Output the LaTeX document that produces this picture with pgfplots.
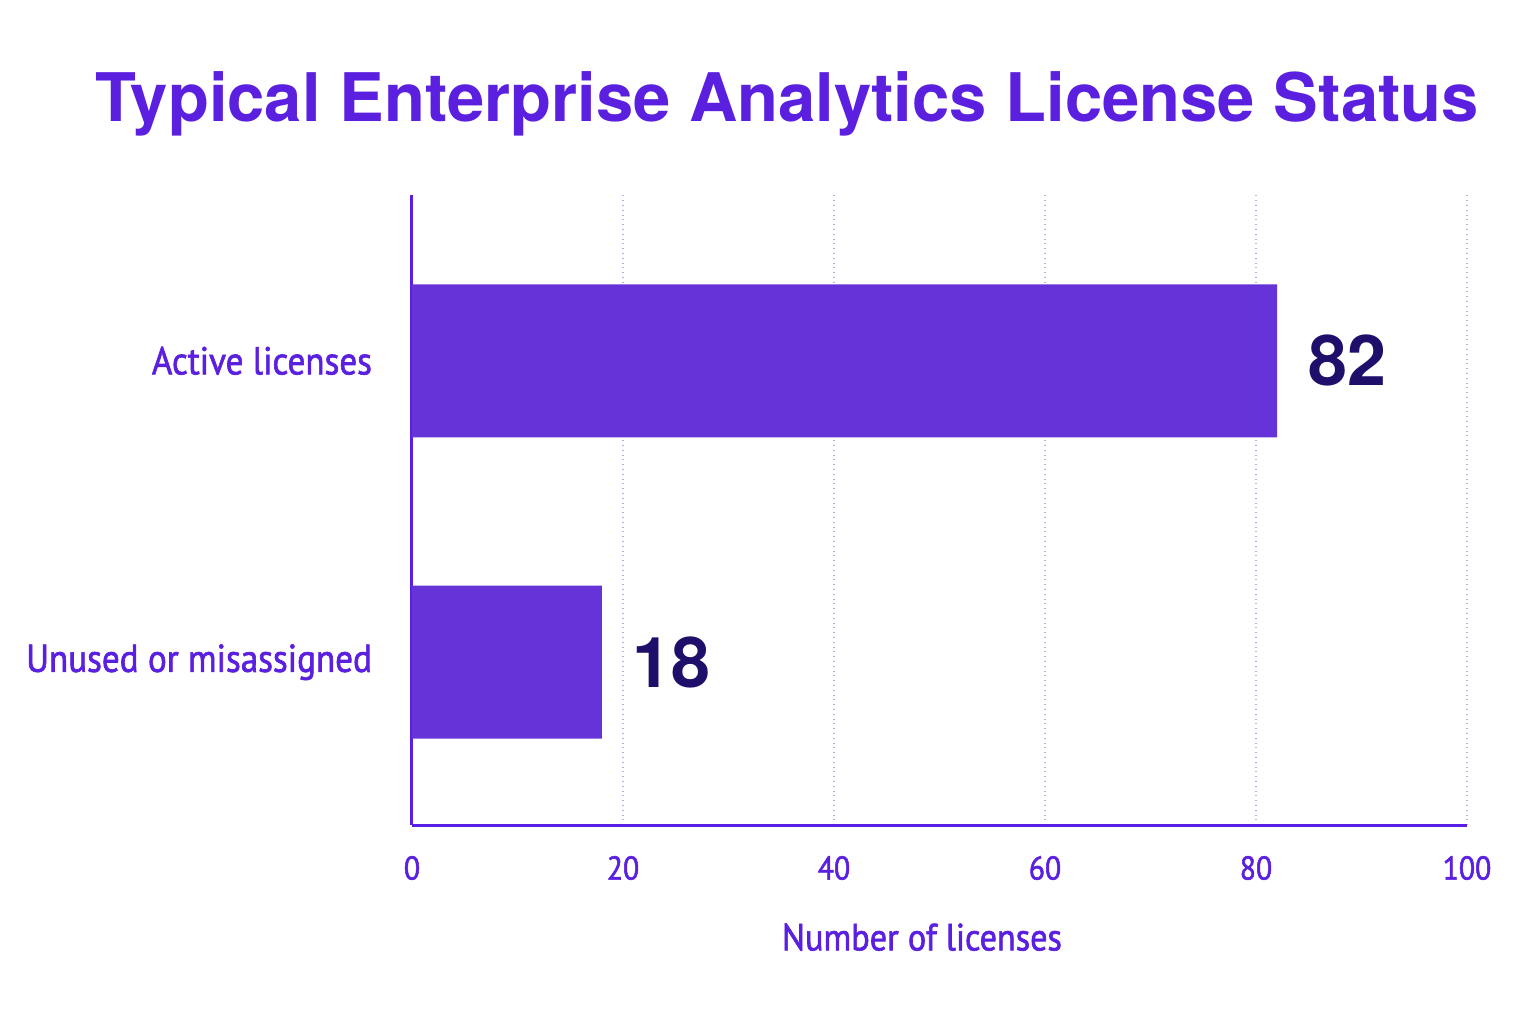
\documentclass[border=0pt]{standalone}
\usepackage{pgfplots}
\pgfplotsset{compat=1.18}
\usepackage{fontspec}
\setmainfont{PT Sans}
\newfontfamily\titlefont{TeX Gyre Heros}
\newfontfamily\labfont[FakeStretch=0.9,FakeBold=1.6]{PT Sans}
\definecolor{barcol}{HTML}{6633D9}
\definecolor{txtcol}{HTML}{5A1FDF}
\definecolor{axcol}{HTML}{5A1FE6}
\definecolor{gridcol}{HTML}{BBAAEE}
\definecolor{valcol}{HTML}{1F0F6B}
\begin{document}
\begin{tikzpicture}
\useasboundingbox (0,0) rectangle (768pt,512pt);
\begin{axis}[
  at={(206pt,99.5pt)}, anchor=south west,
  scale only axis, width=527.5pt, height=315pt,
  xbar, bar width=76.5pt,
  xmin=0, xmax=100, ymin=-0.54, ymax=1.55,
  ytick={0,1}, yticklabels={Unused or misassigned, Active licenses},
  xtick={0,20,40,60,80,100},
  axis x line*=bottom, axis y line*=left,
  axis line style={draw=axcol, line width=1.5pt, -},
  major tick length=0pt,
  xmajorgrids, grid style={gridcol, dotted, line width=0.8pt},
  /pgf/number format/assume math mode=true,
  xticklabel style={font=\labfont\fontsize{16.5}{18}\selectfont, text=txtcol, yshift=-12pt},
  yticklabel style={font=\labfont\fontsize{19.5}{22}\selectfont, text=txtcol, xshift=-16.5pt},
  title={\titlefont\bfseries\fontsize{33.5}{40}\selectfont Typical Enterprise Analytics License Status},
  title style={at={(rel axis cs:0.3555,1.125)}, anchor=center, text=txtcol},
  xlabel={Number of licenses},
  xlabel style={at={(rel axis cs:0.4834,-0.178)}, anchor=center, font=\labfont\fontsize{19}{20}\selectfont, text=txtcol},
  nodes near coords,
  nodes near coords style={font=\titlefont\bfseries\fontsize{35}{40}\selectfont, text=valcol, anchor=west, xshift=12pt},
  clip=false,
]
\addplot[fill=barcol, draw=none] coordinates {(18,0) (82,1)};
\end{axis}
\end{tikzpicture}
\end{document}
